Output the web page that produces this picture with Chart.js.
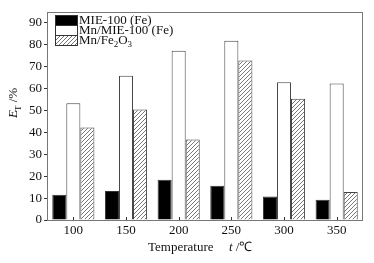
<!DOCTYPE html>
<html>
<head>
<meta charset="utf-8">
<script src="https://cdn.jsdelivr.net/npm/chart.js@4"></script>
<style>
  html, body { margin: 0; padding: 0; background: #fff; }
  #wrap { width: 374px; height: 263px; }
</style>
</head>
<body>
<div id="wrap"><canvas id="myChart" width="374" height="263"></canvas></div>
<script>
const temps = ['100', '150', '200', '250', '300', '350']
const mie = [11.5, 13.3, 18.4, 15.7, 10.7, 9.2]
const mnMie = [53.3, 65.9, 77.3, 81.9, 62.9, 62.4]
const mnFe = [42.3, 50.5, 36.8, 72.9, 55.4, 12.8]
const seriesNames = ['MIE-100 (Fe)', 'Mn/MIE-100 (Fe)', 'Mn/Fe2O3']
const yTicks = [0, 10, 20, 30, 40, 50, 60, 70, 80, 90]

const FONT = '"Liberation Serif", "Times New Roman", serif'

// diagonal hatch
function hatch() {
    const c = document.createElement('canvas')
    c.width = 4
    c.height = 4
    const g = c.getContext('2d')
    g.fillStyle = '#fff'
    g.fillRect(0, 0, 4, 4)
    g.strokeStyle = '#666'
    g.lineWidth = 0.9
    g.beginPath()
    g.moveTo(0, 4); g.lineTo(4, 0)
    g.moveTo(-1, 1); g.lineTo(1, -1)
    g.moveTo(3, 5); g.lineTo(5, 3)
    g.stroke()
    return g.createPattern(c, 'repeat')
}
const hatchFill = hatch()
const fills = ['#000', '#fff', hatchFill]

const decor = {
    id: 'decor',
    afterDraw(chart) {
        const ctx = chart.ctx
        const a = chart.chartArea
        const xs = chart.scales.x
        ctx.save()
        // frame
        ctx.strokeStyle = '#777'
        ctx.lineWidth = 1
        ctx.strokeRect(a.left + 0.5, a.top + 0.5, a.right - a.left - 1, a.bottom - a.top)
        // inward x ticks
        ctx.strokeStyle = '#333'
        ctx.beginPath()
        temps.forEach((t, i) => {
            const x = Math.round(xs.getPixelForValue(i)) + 0.5
            ctx.moveTo(x, a.bottom)
            ctx.lineTo(x, a.bottom - 3)
        })
        ctx.stroke()

        // legend
        const bx = 55, bw = 22, bh = 10
        let by = 15
        const f = '13px ' + FONT
        const fs = '9px ' + FONT
        ctx.font = f
        ctx.textBaseline = 'middle'
        seriesNames.forEach((n, i) => {
            ctx.fillStyle = fills[i]
            ctx.fillRect(bx, by + i * bh, bw, bh)
            ctx.strokeStyle = '#333'
            ctx.strokeRect(bx + 0.5, by + i * bh + 0.5, bw, bh)
            ctx.fillStyle = '#111'
            const ty = by + i * bh + bh / 2 + 0.5
            if (i === 2) {
                let x = 79
                ctx.fillText('Mn/Fe', x, ty)
                x += ctx.measureText('Mn/Fe').width
                ctx.font = fs
                ctx.fillText('2', x, ty + 4)
                x += ctx.measureText('2').width
                ctx.font = f
                ctx.fillText('O', x, ty)
                x += ctx.measureText('O').width
                ctx.font = fs
                ctx.fillText('3', x, ty + 4)
                ctx.font = f
            } else {
                ctx.fillText(n, 79, ty)
            }
        })

        // x title
        ctx.fillStyle = '#111'
        ctx.font = f
        ctx.fillText('Temperature', 148, 248)
        ctx.font = 'italic ' + f
        ctx.fillText('t', 229, 248)
        const tw = ctx.measureText('t').width
        ctx.font = f
        ctx.fillText(' /\u2103', 229 + tw, 248)

        // y title
        ctx.translate(14, 118)
        ctx.rotate(-Math.PI / 2)
        ctx.font = 'italic ' + f
        ctx.fillText('E', 0, 0)
        const ew = ctx.measureText('E').width
        ctx.font = fs
        ctx.fillText('T', ew - 1, 5)
        const sw = ctx.measureText('T').width
        ctx.font = f
        ctx.fillText(' /%', ew - 1 + sw, 0)
        ctx.restore()
    }
}

const ctx = document.getElementById('myChart')
const chart = new Chart(ctx, {
    type: 'bar',
    data: {
        labels: temps,
        datasets: [
            { label: seriesNames[0], data: mie, backgroundColor: fills[0], borderColor: '#333', borderWidth: 1 },
            { label: seriesNames[1], data: mnMie, backgroundColor: fills[1], borderColor: '#444', borderWidth: 1 },
            { label: seriesNames[2], data: mnFe, backgroundColor: fills[2], borderColor: '#444', borderWidth: 1 }
        ]
    },
    options: {
        responsive: false,
        animation: false,
        devicePixelRatio: 1,
        categoryPercentage: 0.8,
        barPercentage: 1,
        layout: { padding: { top: 12, right: 11, left: 0, bottom: 0 } },
        plugins: {
            legend: { display: false },
            tooltip: { enabled: false }
        },
        scales: {
            x: {
                grid: { display: false, drawTicks: false },
                border: { display: false },
                ticks: { color: '#111', font: { family: FONT, size: 13 }, padding: 3, maxRotation: 0 },
                afterFit: s => { s.height = 43 }
            },
            y: {
                min: 0,
                max: 95,
                grid: { drawOnChartArea: false, tickLength: 3, color: '#333' },
                border: { display: false },
                ticks: { color: '#111', font: { family: FONT, size: 13 }, padding: 2 },
                afterBuildTicks: s => { s.ticks = yTicks.map(v => ({ value: v })) },
                afterFit: s => { s.width = 47 }
            }
        }
    },
    plugins: [decor]
})
</script>
</body>
</html>
